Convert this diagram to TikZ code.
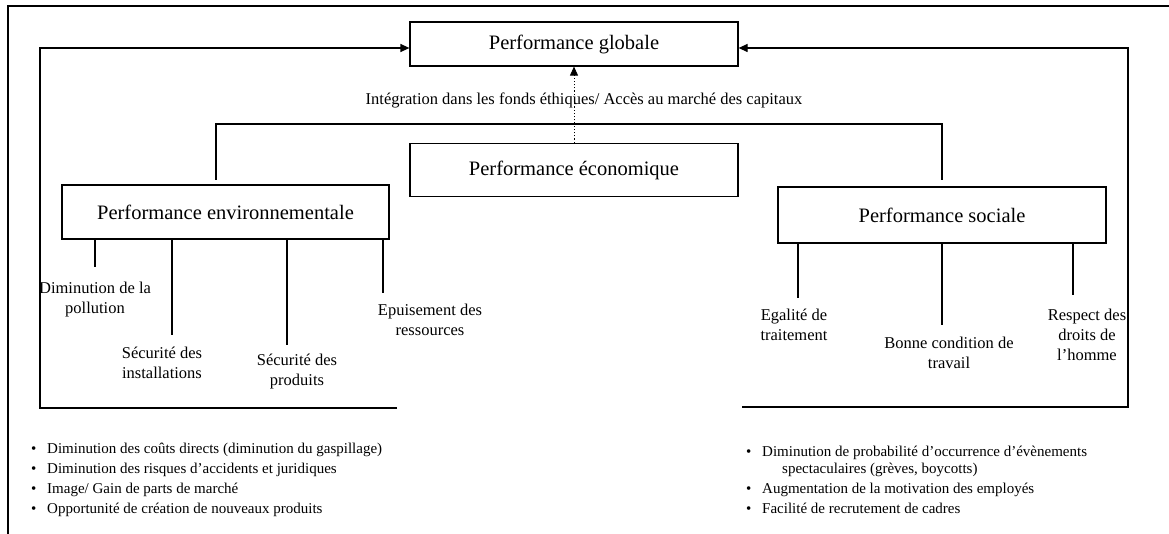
\documentclass[tikz,border=0pt]{standalone}
\usepackage{fontspec}
\setmainfont{Liberation Serif}
\usetikzlibrary{arrows.meta,positioning}
\newcommand{\bul}{\makebox[16pt][l]{\textbullet}}

\begin{document}
\begin{tikzpicture}[
    x=1pt, y=-1pt,
    box/.style={rectangle, draw, line width=1.2pt, minimum width=328pt, inner sep=0pt, align=center, font=\fontsize{20.5}{24}\selectfont},
    conn/.style={line width=1.2pt},
    arrow/.style={conn, -{Triangle[length=9pt,width=8pt]}},
    lbl/.style={align=center, inner sep=0pt, font=\fontsize{16.5}{20}\selectfont},
    bullets/.style={align=left, anchor=north west, inner sep=0pt, font=\fontsize{15}{20}\selectfont}
]
\useasboundingbox (0,0) rectangle (1169,534);
\draw[line width=2.5pt] (8,534) -- (8,6) -- (1169,6);

\node[box, minimum height=44pt] (glob) at (574,44) {Performance globale};
\node[box, minimum height=53pt] (eco) at (574,170) {Performance économique};
\node[box, minimum width=327pt, minimum height=54pt] (env) at (225.5,212) {Performance environnementale};
\node[box, minimum height=56pt] (soc) at (942,215) {Performance sociale};

\node[lbl] (fonds) at (584,100) {Intégration dans les fonds éthiques/ Accès au marché des capitaux};

\node[lbl] (pollu) at (95,300) {Diminution de la\\pollution};
\node[lbl] (instal) at (162,363) {Sécurité des\\installations};
\node[lbl] (prod) at (297,372) {Sécurité des\\produits};
\node[lbl] (ress) at (430,320) {Epuisement des\\ressources};
\node[lbl] (egal) at (794,325) {Egalité de\\traitement};
\node[lbl] (travail) at (949,353) {Bonne condition de\\travail};
\node[lbl] (droits) at (1087,335) {Respect des\\droits de\\l’homme};

\foreach \n/\x/\y in {e1/95/267, e2/172/335, e3/287/345, e4/383/293, s1/798/298, s2/942/325, s3/1073/295}
    \coordinate (\n) at (\x,\y);
\foreach \n in {e1,e2,e3,e4}
    \draw[conn] (env.south -| \n) -- (\n);
\foreach \n in {s1,s2,s3}
    \draw[conn] (soc.south -| \n) -- (\n);

\coordinate (envtop) at (216,180);
\coordinate (soctop) at (942,180);
\draw[conn] (envtop) -- ++(0,-56) -| (soctop);

\coordinate (envend) at (397,408);
\coordinate (envloop) at (40,408);
\coordinate (socend) at (742,407);
\coordinate (socloop) at (1128,407);
\draw[arrow] (envend) -- (envloop) |- ([yshift=-4pt]glob.west);
\draw[arrow] (socend) -- (socloop) |- ([yshift=-4pt]glob.east);
\draw[arrow, dotted, line width=0.8pt] (eco.north) -- (glob.south);

\node[bullets] (envlist) at (31,443) {\bul Diminution des coûts directs (diminution du gaspillage)\\
\bul Diminution des risques d’accidents et juridiques\\
\bul Image/ Gain de parts de marché\\
\bul Opportunité de création de nouveaux produits};
\node[bullets] (soclist) at (746,446) {\bul Diminution de probabilité d’occurrence d’évènements\\[-3pt]
\hspace{36pt}spectaculaires (grèves, boycotts)\\
\bul Augmentation de la motivation des employés\\
\bul Facilité de recrutement de cadres};
\end{tikzpicture}
\end{document}
